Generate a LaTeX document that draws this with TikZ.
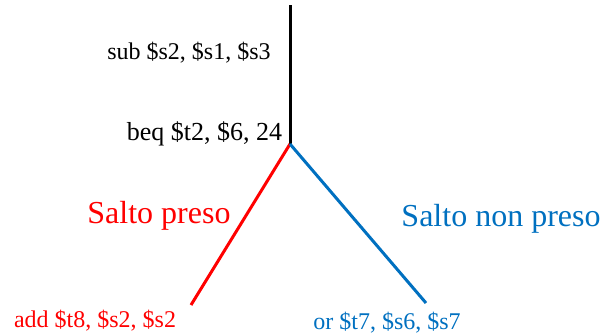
\documentclass[tikz,border=0pt]{standalone}
\usepackage{fontspec}
\setmainfont{Liberation Serif}
\usepackage{tikz}
\usetikzlibrary{positioning}
\definecolor{takenred}{RGB}{255,0,0}
\definecolor{nottakenblue}{RGB}{0,112,192}
\tikzstyle{instr}=[inner sep=0pt,font=\fontsize{12}{14}\selectfont]
\tikzstyle{branch}=[inner sep=0pt,font=\fontsize{16}{19}\selectfont]
\tikzstyle{line}=[line width=1.5pt]

\begin{document}
\begin{tikzpicture}[x=0.5pt,y=-0.5pt]
    \useasboundingbox (0,0) rectangle (604,334);

    \coordinate (top) at (290,5);
    \coordinate (fork) at (290,144);
    \coordinate (takenend) at (191,305);
    \coordinate (nottakenend) at (426,303);

    \node[instr] (sub) at (189,53) {sub \$s2, \$s1, \$s3};
    \node[instr,font=\fontsize{13}{15}\selectfont] (beq) at (204.5,134) {beq \$t2, \$6, 24};
    \node[branch,text=takenred] (taken) at (159,216) {Salto preso};
    \node[branch,text=nottakenblue] (nottaken) at (501,219) {Salto non preso};
    \node[instr,text=takenred] (addinstr) at (95,321) {add \$t8, \$s2, \$s2};
    \node[instr,text=nottakenblue] (orinstr) at (387,323) {or \$t7, \$s6, \$s7};

    \draw[line] (top) -- (fork) ;
    \draw[line,takenred] (fork) -- (takenend) ;
    \draw[line,nottakenblue] (fork) -- (nottakenend) ;
\end{tikzpicture}
\end{document}
